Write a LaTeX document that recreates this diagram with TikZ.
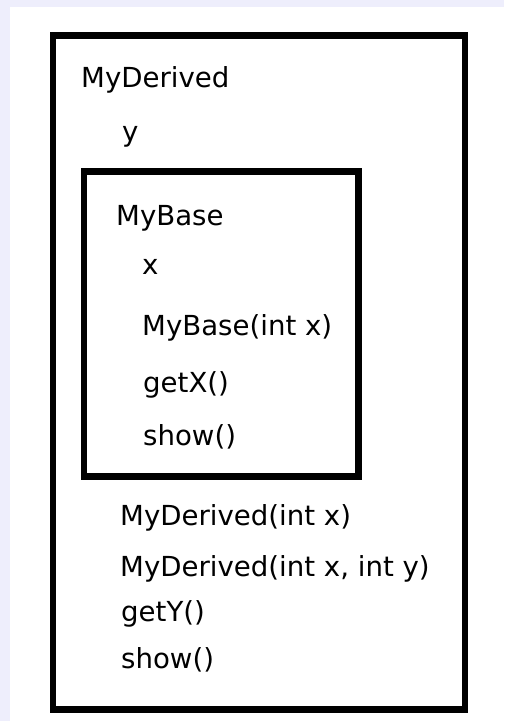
\documentclass[tikz,border=0pt]{standalone}
\usepackage{fontspec}
\setmainfont{DejaVu Sans}
\definecolor{bglav}{RGB}{238,238,252}
\begin{document}
\begin{tikzpicture}[x=1pt,y=-1pt,
  lbl/.style={anchor=base west,inner sep=0pt,font=\fontsize{27.6}{30}\selectfont},
  frame/.style={draw=black,line width=6.5pt,rectangle,inner sep=0pt,outer sep=0pt,anchor=north west}]
\useasboundingbox (0,0) rectangle (504,721);
\fill[bglav] (0,0) rectangle (504,721);
\fill[white] (10,7) rectangle (504,721);
% outer class box
\node[frame,minimum width=412pt,minimum height=674pt] (outer) at (53,35.5) {};
% inner class box
\node[frame,minimum width=274.5pt,minimum height=305pt] (inner) at (84,171.5) {};
% outer texts
\node[lbl] (dname) at (81,87) {MyDerived};
\node[lbl] (dy) at (122,141) {y};
% inner texts
\node[lbl] (bname) at (116,225) {MyBase};
\node[lbl] (bx) at (142,274) {x};
\node[lbl] (bctor) at (142,335) {MyBase(int x)};
\node[lbl] (bget) at (143,392) {getX()};
\node[lbl] (bshow) at (143,445) {show()};
% derived methods
\node[lbl] (dctor1) at (120,525) {MyDerived(int x)};
\node[lbl] (dctor2) at (120,576) {MyDerived(int x, int y)};
\node[lbl] (dget) at (121,621) {getY()};
\node[lbl] (dshow) at (121,668) {show()};
\end{tikzpicture}
\end{document}
